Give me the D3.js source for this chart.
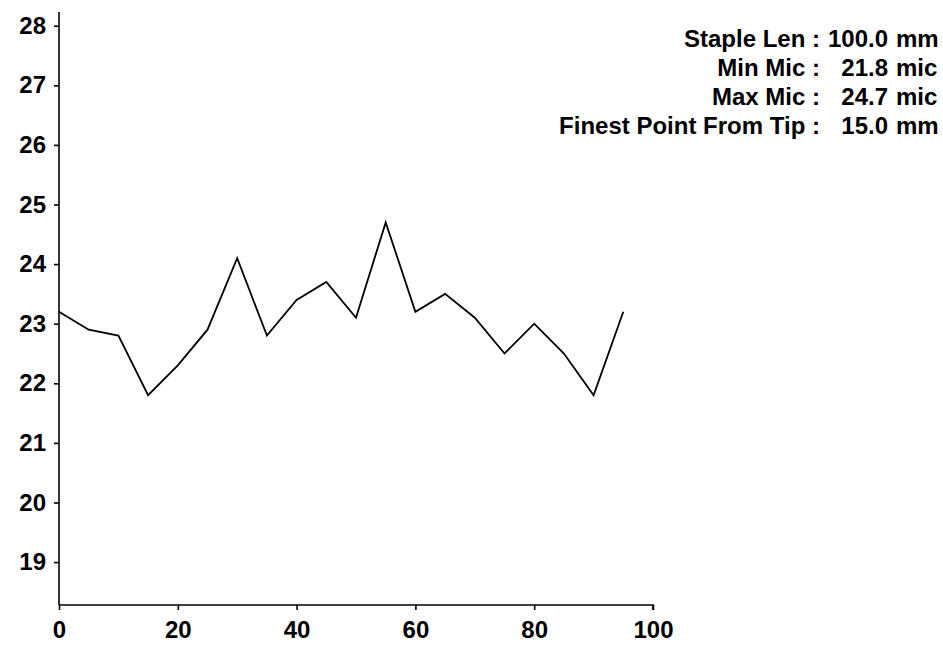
<!DOCTYPE html>
<html>
<head>
<meta charset="utf-8">
<script src="https://cdn.jsdelivr.net/npm/d3@7"></script>
<style>
  html, body { margin: 0; padding: 0; background: #fff; }
  text { font-family: "Liberation Sans", Arial, sans-serif; font-weight: bold; fill: #000; }
</style>
</head>
<body>
<div id="chart"></div>
<script>
// Data
const positions = [0, 5, 10, 15, 20, 25, 30, 35, 40, 45, 50, 55, 60, 65, 70, 75, 80, 85, 90, 95];
const micValues = [23.2, 22.9, 22.8, 21.8, 22.3, 22.9, 24.1, 22.8, 23.4, 23.7, 23.1, 24.7, 23.2, 23.5, 23.1, 22.5, 23.0, 22.5, 21.8, 23.2];
const xTicks = [0, 20, 40, 60, 80, 100];
const yTicks = [19, 20, 21, 22, 23, 24, 25, 26, 27, 28];
const infoLabels = ["Staple Len :", "Min Mic :", "Max Mic :", "Finest Point From Tip :"];
const infoNumbers = ["100.0", "21.8", "24.7", "15.0"];
const infoUnits = ["mm", "mic", "mic", "mm"];

const width = 943, height = 649;
const svg = d3.select("#chart").append("svg")
  .attr("width", width)
  .attr("height", height);

// Scales
const x = d3.scaleLinear().domain([0, 100]).range([59, 653]);
const y = d3.scaleLinear().domain([18.28, 28.23]).range([605, 12]);

// Y axis
const yAxis = svg.append("g")
  .attr("transform", `translate(${x(0)},0)`)
  .call(d3.axisLeft(y).tickValues(yTicks).tickSize(5).tickPadding(8).tickFormat(d3.format("d")));
yAxis.select(".domain").attr("d", `M0,${y.range()[1]}V${y.range()[0]}`);

// X axis
const xAxis = svg.append("g")
  .attr("transform", `translate(0,${y.range()[0]})`)
  .call(d3.axisBottom(x).tickValues(xTicks).tickSize(5).tickPadding(11).tickFormat(d3.format("d")));
xAxis.select(".domain").attr("d", `M${x.range()[0]},0H${x.range()[1]}V5`);

svg.selectAll(".domain, .tick line")
  .attr("stroke", "#000")
  .attr("stroke-width", 1.6);
svg.selectAll(".tick text")
  .style("font-size", "24px")
  .style("font-family", "'Liberation Sans', Arial, sans-serif")
  .style("font-weight", "bold")
  .attr("fill", "#000");

// Line
const line = d3.line()
  .x((d, i) => x(positions[i]))
  .y(d => y(d));

svg.append("path")
  .datum(micValues)
  .attr("d", line)
  .attr("fill", "none")
  .attr("stroke", "#000")
  .attr("stroke-width", 1.8)
  .attr("stroke-linejoin", "miter");

// Info block, top right
const info = svg.append("g").style("font-size", "24px");
const colonX = 820, numX = 888, lineY0 = 47, lineGap = 29;

info.selectAll("text.lab")
  .data(infoLabels)
  .enter().append("text")
  .attr("class", "lab")
  .attr("x", colonX)
  .attr("y", (d, i) => lineY0 + i * lineGap)
  .attr("text-anchor", "end")
  .text(d => d);

info.selectAll("text.num")
  .data(infoNumbers)
  .enter().append("text")
  .attr("class", "num")
  .attr("x", numX)
  .attr("y", (d, i) => lineY0 + i * lineGap)
  .attr("text-anchor", "end")
  .text(d => d);

info.selectAll("text.unit")
  .data(infoUnits)
  .enter().append("text")
  .attr("class", "unit")
  .attr("x", numX + 8)
  .attr("y", (d, i) => lineY0 + i * lineGap)
  .text(d => d);
</script>
</body>
</html>
